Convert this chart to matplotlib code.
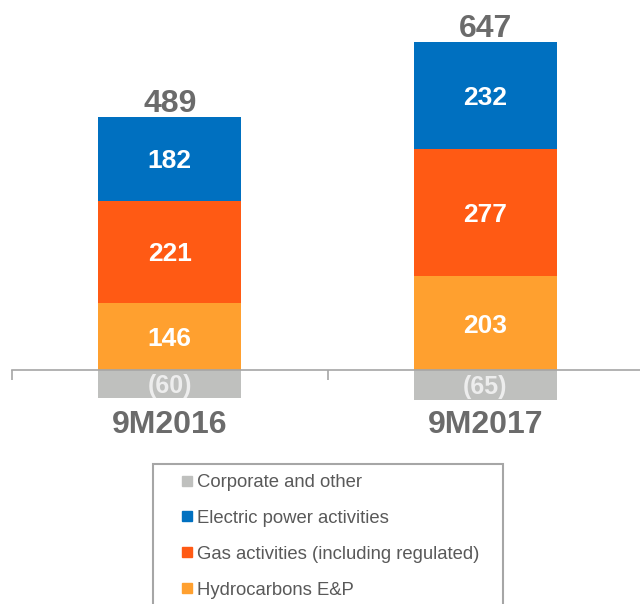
import matplotlib
matplotlib.use("Agg")
import matplotlib.pyplot as plt
from matplotlib.lines import Line2D
from matplotlib.patches import Rectangle
import numpy as np

plt.rcParams['font.family'] = ['Liberation Sans', 'DejaVu Sans']

categories = ["9M2016", "9M2017"]
corporate = [-60, -65]
hydrocarbons = [146, 203]
gas = [221, 277]
electric = [182, 232]
series_names = ["Corporate and other", "Electric power activities",
                "Gas activities (including regulated)", "Hydrocarbons E&P"]

c_gray = "#BFC0BE"
c_blue = "#0070C0"
c_red = "#FF5A14"
c_orange = "#FFA02F"
txt_gray = "#6B6B6B"
axis_gray = "#A6A6A6"

W, H = 640, 604
fig = plt.figure(figsize=(W / 100, H / 100), dpi=100)

left_px, right_px = 12, 643
ax = fig.add_axes([left_px / W, 0, (right_px - left_px) / W, 1])
ppu = 0.461
base_px = 370
ax.set_xlim(-0.5, 1.5)
ax.set_ylim(-(H - base_px) / ppu, base_px / ppu)

x = np.arange(len(categories))
bw = 0.453
hyd = np.array(hydrocarbons)
gs = np.array(gas)
el = np.array(electric)
co = np.array(corporate)

b_co = ax.bar(x, co, bw, color=c_gray, zorder=1)
b_hy = ax.bar(x, hyd, bw, color=c_orange, zorder=2)
b_gs = ax.bar(x, gs, bw, bottom=hyd, color=c_red, zorder=2)
b_el = ax.bar(x, el, bw, bottom=hyd + gs, color=c_blue, zorder=2)

for vals, bottoms in [(hyd, np.zeros(2)), (gs, hyd), (el, hyd + gs)]:
    for xi, v, b in zip(x, vals, bottoms):
        ax.text(xi, b + v / 2, f"{v}", ha="center", va="center_baseline", color="white",
                fontsize=19, fontweight="bold", zorder=5)

for xi, v in zip(x, co):
    ax.text(xi, v / 2, f"({abs(v)})", ha="center", va="center_baseline", color="#EDEDED",
            fontsize=18, fontweight="bold", zorder=5)

tops = hyd + gs + el
totals = tops + co
for xi, top, t in zip(x, tops, totals):
    ax.annotate(f"{t}", (xi, top), xytext=(0, 3.6), textcoords="offset points",
                ha="center", va="baseline", color=txt_gray, fontsize=23,
                fontweight="bold")

for s in ["top", "right", "left"]:
    ax.spines[s].set_visible(False)
ax.spines["bottom"].set_position(("data", 0))
ax.spines["bottom"].set_color(axis_gray)
ax.spines["bottom"].set_linewidth(1.2)
ax.spines["bottom"].set_zorder(3)
ax.set_yticks([])
ax.set_xticks(x)
ax.set_xticklabels(categories, fontsize=23, fontweight="bold", color=txt_gray)
ax.tick_params(axis="x", which="major", length=0, pad=29)
ax.set_xticks([-0.5, 0.5, 1.5], minor=True)
ax.tick_params(axis="x", which="minor", length=7.5, width=1.2, color=axis_gray, direction="out")
ax.patch.set_visible(False)

box = Rectangle((153 / W, 1 - 700 / H), (503 - 153) / W, (700 - 464) / H,
                transform=fig.transFigure, fill=False, edgecolor=axis_gray, linewidth=1.5)
fig.add_artist(box)

colors = [c_gray, c_blue, c_red, c_orange]
handles = [Line2D([], [], marker="s", linestyle="none", markersize=6.5,
                  markerfacecolor=c, markeredgecolor=c) for c in colors]
leg = fig.legend(handles, series_names, loc="upper left",
                 bbox_to_anchor=(181 / W, 1 - 474 / H), frameon=False,
                 fontsize=13.3, labelcolor="#595959", handlelength=0.7,
                 handletextpad=0.15, labelspacing=1.02, borderaxespad=0,
                 borderpad=0)

fig.savefig("out.png", dpi=100)
